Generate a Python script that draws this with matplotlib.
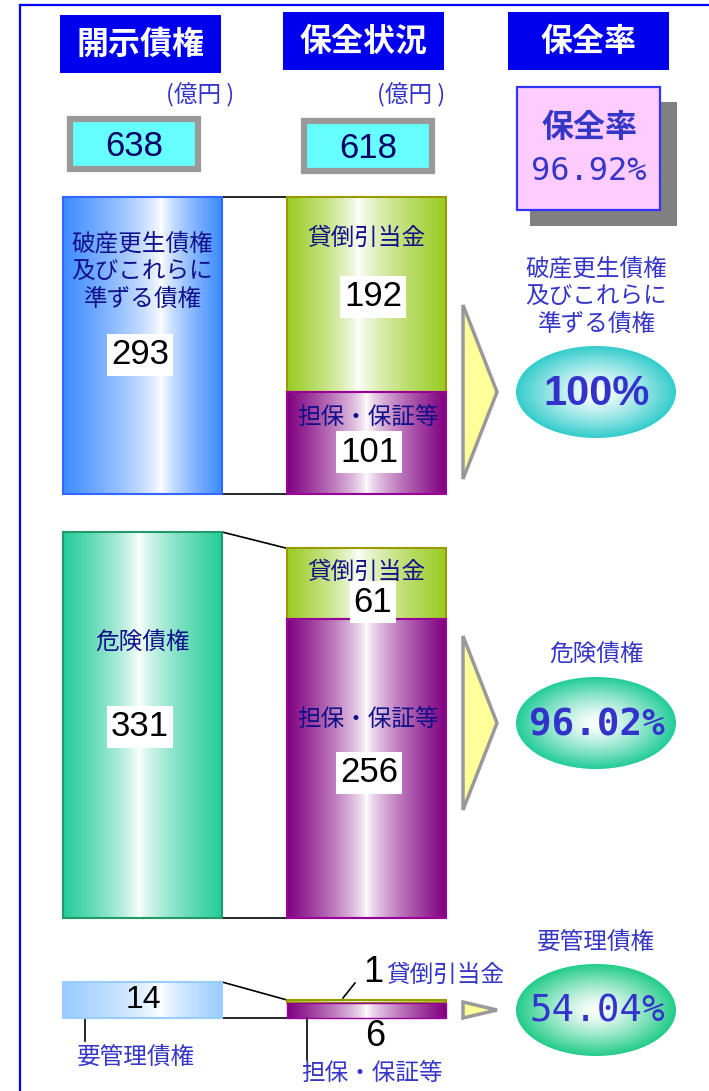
import numpy as np
import matplotlib
matplotlib.use("Agg")
import matplotlib.pyplot as plt
from matplotlib.patches import Rectangle, Ellipse, Polygon
from matplotlib.colors import to_rgb

# data (億円)
categories = ["破産更生債権\n及びこれらに\n準ずる債権", "危険債権", "要管理債権"]
disclosed = [293, 331, 14]
allowance = [192, 61, 1]
collateral = [101, 256, 6]
rates = ["100%", "96.02%", "54.04%"]
total_disclosed = 638
total_secured = 618
total_rate = "96.92%"
headers = ["開示債権", "保全状況", "保全率"]

JP = "Noto Sans CJK JP"
NUM = ["Liberation Sans Narrow", "Liberation Sans", "DejaVu Sans"]
MONO = ["DejaVu Sans Mono"]
NAVY = "#10108a"
LBLUE = "#3535c8"

fig = plt.figure(figsize=(7.09, 10.91), dpi=100)
ax = fig.add_axes([0, 0, 1, 1])


def hgrad(x0, x1, y0, y1, color, peak, edge, lw=1.5, z=2):
    t = np.linspace(0, 1, 256)
    w = np.where(t < peak, (peak - t) / peak, (t - peak) / (1 - peak))
    w = np.clip(w, 0, 1) ** 0.75
    c = np.array(to_rgb(color))
    img = 1 - w[:, None] * (1 - c[None, :])
    ax.imshow(img[None, :, :], extent=(x0, x1, y1, y0), aspect="auto",
              interpolation="bilinear", zorder=z)
    ax.add_patch(Rectangle((x0, y0), x1 - x0, y1 - y0, fill=False,
                           edgecolor=edge, lw=lw, zorder=z + 0.5))


def radial(cx, cy, w, h, color, z=2):
    n = 200
    xx, yy = np.meshgrid(np.linspace(-1, 1, n), np.linspace(-1, 1, n))
    r = np.clip(np.sqrt(xx ** 2 + yy ** 2), 0, 1) ** 1.3
    c = np.array(to_rgb(color))
    img = 1 - r[:, :, None] * (1 - c[None, None, :])
    el = Ellipse((cx, cy), w, h, facecolor="none", edgecolor="none")
    ax.add_patch(el)
    im = ax.imshow(img, extent=(cx - w / 2, cx + w / 2, cy + h / 2, cy - h / 2),
                   aspect="auto", interpolation="bilinear", zorder=z)
    im.set_clip_path(el)


# frame
ax.plot([20, 20], [5, 1091], color="#0000ff", lw=1.6, zorder=1)
ax.plot([20, 709], [5, 5], color="#0000ff", lw=1.6, zorder=1)

# header boxes
for (x0, y0), txt in zip([(60, 15), (283, 12), (508, 12)], headers):
    ax.add_patch(Rectangle((x0, y0), 161, 58, facecolor="#0000ee", edgecolor="none"))
    ax.text(x0 + 80, y0 + 30, txt, color="white", fontsize=23, fontweight="bold",
            family=JP, ha="center", va="center")

for x in [200, 411]:
    ax.text(x, 95, "(億円 )", color=LBLUE, fontsize=17, family=JP,
            ha="center", va="center")

# totals
for (x0, y0), val in zip([(70, 119), (304, 121)], [total_disclosed, total_secured]):
    ax.add_patch(Rectangle((x0, y0), 128, 50, facecolor="#66ffff",
                           edgecolor="#999999", lw=4.5))
    ax.text(x0 + 64, y0 + 27, str(val), color="#000066", fontsize=25,
            family=NUM, ha="center", va="center")

ax.add_patch(Rectangle((530, 102), 147, 124, facecolor="#808080", edgecolor="none"))
ax.add_patch(Rectangle((517, 87), 143, 123, facecolor="#ffccff",
                       edgecolor="#3333ff", lw=1.6))
ax.text(589, 128, "保全率", color=LBLUE, fontsize=23, fontweight="bold",
        family=JP, ha="center", va="center")
ax.text(589, 172, total_rate, color=LBLUE, fontsize=23, family=MONO,
        ha="center", va="center")

# sections
sec_top = [197, 532, 982]
scale = [1.014, 1.166, 2.57]
left_col = [("#3d8bff", 0.62, "#3366ff"), ("#22cc99", 0.48, "#229966"),
            ("#99ccff", 0.62, "#99ccff")]
ell_col = ["#33cccc", "#22cc99", "#22cc88"]
ell_y = [392, 723, 1010]
lab_y = [297, 654, 942]
lx0, lx1, rx0, rx1 = 63, 222, 287, 446

for i in range(3):
    top = sec_top[i]
    bot = top + disclosed[i] * scale[i]
    rtop = bot - (allowance[i] + collateral[i]) * scale[i]
    mid = rtop + allowance[i] * scale[i]
    col, pk, ed = left_col[i]
    hgrad(lx0, lx1, top, bot, col, pk, ed)
    hgrad(rx0, rx1, rtop, mid, "#99cc22", 0.45, "#999900")
    if i < 2:
        hgrad(rx0, rx1, mid, bot, "#800080", 0.5, "#990099")
    else:
        hgrad(rx0, rx1, mid, bot, "#800080", 0.5, "#990099", lw=1)
    ax.plot([lx1, rx0], [top, rtop], color="black", lw=1.2, zorder=1)
    ax.plot([lx1, rx0], [bot, bot], color="black", lw=1.2, zorder=1)

    # arrow
    cy = ell_y[i]
    hh = 87 if i < 2 else 8
    ax.add_patch(Polygon([(463, cy - hh), (497, cy), (463, cy + hh)], closed=True,
                         facecolor="#ffff99", edgecolor="#999999", lw=2.5, zorder=2))
    # rate ellipse
    radial(596, cy, 160, 92, ell_col[i])
    lab = categories[i]
    ax.text(596, lab_y[i], lab, color=LBLUE, fontsize=17, family=JP,
            ha="center", va="center", linespacing=1.25)
    if i == 0:
        ax.text(597, cy + 2, rates[i], color="#3333cc", fontsize=30, fontweight="bold",
                family=NUM, ha="center", va="center", zorder=4)
    else:
        ax.text(597, cy + 2, rates[i], color="#3333cc", fontsize=27,
                fontweight="bold" if i == 1 else "normal",
                family=MONO, ha="center", va="center", zorder=4)

    box = dict(facecolor="white", edgecolor="none", pad=3)
    if i < 2:
        ly = [272, 642][i]
        ax.text(142, ly, lab, color=NAVY, fontsize=17, family=JP, ha="center",
                va="center", linespacing=1.25, zorder=4)
        ax.text(140, [355, 727][i], str(disclosed[i]), color="black", fontsize=25,
                family=NUM, ha="center", va="center", bbox=box, zorder=4)
        ax.text(366, [238, 572][i], "貸倒引当金", color=NAVY, fontsize=17,
                family=JP, ha="center", va="center", zorder=4)
        ax.text(373, [297, 602][i], str(allowance[i]), color="black", fontsize=25,
                family=NUM, ha="center", va="center", bbox=box, zorder=4)
        ax.text(368, [418, 720][i], "担保・保証等", color=NAVY, fontsize=17,
                family=JP, ha="center", va="center", zorder=4)
        ax.text(369, [452, 773][i], str(collateral[i]), color="black", fontsize=25,
                family=NUM, ha="center", va="center", bbox=box, zorder=4)
    else:
        ax.text(143, (top + bot) / 2, str(disclosed[i]), color="black", fontsize=23,
                family=NUM, ha="center", va="center", zorder=4)
        ax.plot([85, 85], [bot, 1041], color="black", lw=1.2)
        ax.text(136, 1057, lab, color=LBLUE, fontsize=17, family=JP,
                ha="center", va="center")
        ax.plot([343, 355], [rtop - 2, 983], color="black", lw=1.2)
        ax.text(373, 973, str(allowance[i]), color="black", fontsize=26,
                family=NUM, ha="center", va="center")
        ax.text(445, 975, "貸倒引当金", color=LBLUE, fontsize=17, family=JP,
                ha="center", va="center")
        ax.text(375, 1036, str(collateral[i]), color="black", fontsize=26,
                family=NUM, ha="center", va="center")
        ax.plot([307, 307], [bot, 1060], color="black", lw=1.2)
        ax.text(372, 1073, "担保・保証等", color=LBLUE, fontsize=17, family=JP,
                ha="center", va="center")

ax.set_xlim(0, 709)
ax.set_ylim(1091, 0)
ax.axis("off")
fig.savefig("out.png", dpi=100)
